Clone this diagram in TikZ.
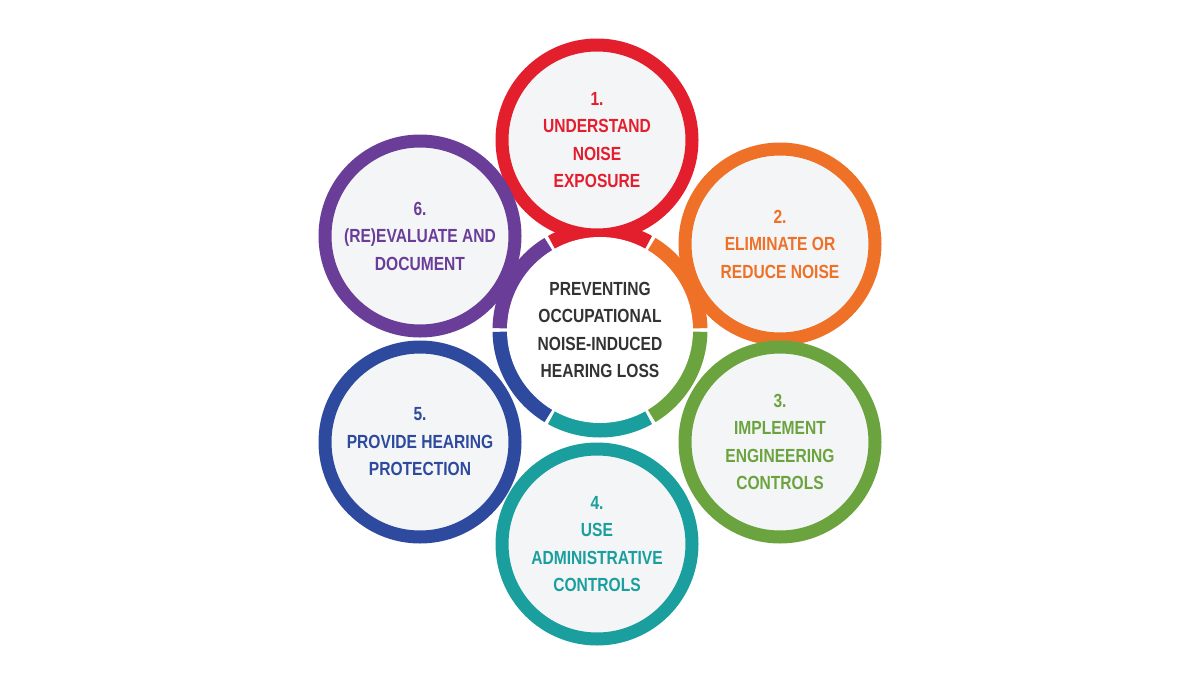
\documentclass[tikz,border=0pt]{standalone}
\usepackage{fontspec}
\setmainfont{Liberation Sans}[FakeStretch=0.82]
\definecolor{cA}{HTML}{E31E2D}
\definecolor{cB}{HTML}{EE7127}
\definecolor{cC}{HTML}{6BA43F}
\definecolor{cD}{HTML}{1A9E9E}
\definecolor{cE}{HTML}{2E4A9E}
\definecolor{cF}{HTML}{6A3E98}
\definecolor{disc}{HTML}{F4F5F7}
\begin{document}
\begin{tikzpicture}[x=1pt,y=-1pt,
  outer/.style={circle,draw=#1,line width=13pt,fill=disc,minimum size=190pt,inner sep=0pt,
    text=#1,font=\bfseries\fontsize{19}{27.5}\selectfont,align=center},
  seg/.style={draw=#1,line width=15pt}]
\useasboundingbox (0,0) rectangle (1200,675);
\coordinate (c) at (600,330);
\begin{scope}[shift={(600,330)},y=1pt]
\foreach \a/\col in {90/cA,30/cB,-30/cC,-90/cD,-150/cE,150/cF}{
  \draw[seg=\col] (\a+29:100) arc[start angle=\a+29,end angle=\a-29,radius=100];
}
\end{scope}
\node[outer=cA] (n1) at (597,140) {1.\\UNDERSTAND\\NOISE\\EXPOSURE};
\node[outer=cB] (n2) at (780,244) {2.\\ELIMINATE OR\\REDUCE NOISE};
\node[outer=cC] (n3) at (780,442) {3.\\IMPLEMENT\\ENGINEERING\\CONTROLS};
\node[outer=cD] (n4) at (597,544) {4.\\USE\\ADMINISTRATIVE\\CONTROLS};
\node[outer=cE] (n5) at (420,442) {5.\\PROVIDE HEARING\\PROTECTION};
\node[outer=cF] (n6) at (420,236) {6.\\(RE)EVALUATE AND\\DOCUMENT};
\node[circle,fill=white,minimum size=186pt,inner sep=0pt,text=black!80,
  font=\bfseries\fontsize{19}{27.5}\selectfont,align=center] (ctr) at (c)
  {PREVENTING\\OCCUPATIONAL\\NOISE-INDUCED\\HEARING LOSS};
\end{tikzpicture}
\end{document}
